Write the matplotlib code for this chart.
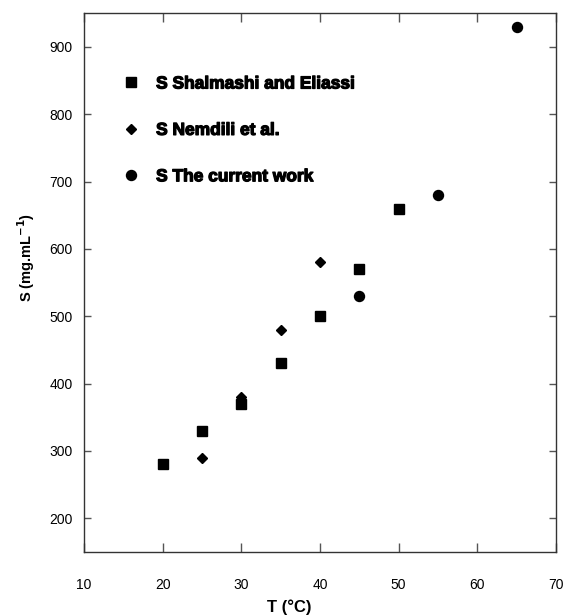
import matplotlib
matplotlib.use("Agg")
import matplotlib.pyplot as plt
import matplotlib.patheffects as pe

plt.rcParams['font.family'] = ['Liberation Sans', 'DejaVu Sans']

# Data
t_shalmashi = [20, 25, 30, 35, 40, 45, 50]
s_shalmashi = [280, 330, 370, 430, 500, 570, 660]
t_nemdili = [25, 30, 35, 40]
s_nemdili = [290, 380, 480, 580]
t_current = [45, 55, 65]
s_current = [530, 680, 930]

labels = ["S Shalmashi and Eliassi", "S Nemdili et al.", "S The current work"]
xticks = [10, 20, 30, 40, 50, 60, 70]
yticks = [200, 300, 400, 500, 600, 700, 800, 900]

fig = plt.figure(figsize=(5.66, 6.16), dpi=100)
W, H = 566, 616
ax = fig.add_axes([84 / W, (H - 552) / H, (556 - 84) / W, (552 - 13.3) / H])

ax.plot(t_shalmashi, s_shalmashi, linestyle='none', marker='s', markersize=6.5,
        color='black', label=labels[0])
ax.plot(t_nemdili, s_nemdili, linestyle='none', marker='D', markersize=5,
        color='black', label=labels[1])
ax.plot(t_current, s_current, linestyle='none', marker='o', markersize=7.2,
        color='black', label=labels[2])

ax.set_xlim(10, 70)
ax.set_ylim(150, 950)
ax.set_xticks(xticks)
ax.set_yticks(yticks)

for sp in ax.spines.values():
    sp.set_color('#333333')
    sp.set_linewidth(1.0)

ax.tick_params(axis='x', direction='in', length=6.5, width=1, color='#555555',
               top=True, labelsize=10, pad=19)
ax.tick_params(axis='y', direction='in', length=5, width=1, color='#555555',
               right=True, labelsize=10, pad=8)

ax.set_xlabel("T (°C)", fontsize=12, fontweight='bold')
ax.xaxis.set_label_coords(0.434, -0.088)
ax.set_ylabel(r"S (mg.mL$^{\mathbf{-1}}$)", fontsize=10.5, fontweight='bold')
ax.yaxis.set_label_coords(-0.099, 0.546)

leg = ax.legend(loc='upper left', bbox_to_anchor=(0.081, 0.883), frameon=False,
                borderpad=0, borderaxespad=0, handlelength=1.0, handletextpad=0.95,
                labelspacing=1.8, numpoints=1,
                prop={'weight': 'bold', 'size': 12.5})
for txt in leg.get_texts():
    txt.set_path_effects([pe.withStroke(linewidth=0.9, foreground='black')])

fig.savefig("out.png", dpi=100)
